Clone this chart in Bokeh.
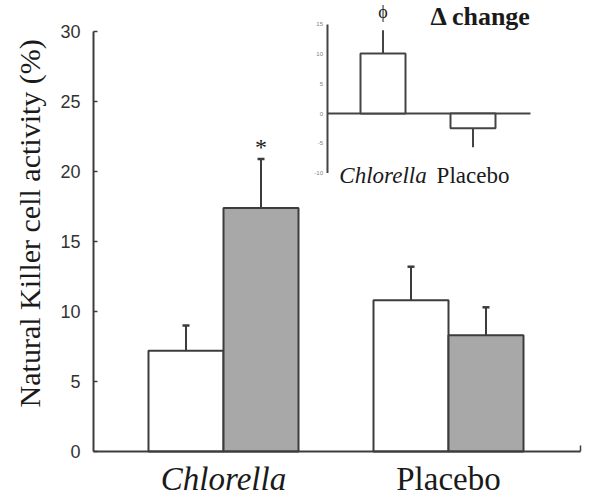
import math
from bokeh.plotting import figure
from bokeh.models import (Range1d, LinearAxis, FixedTicker, ColumnDataSource, Whisker,
                          TeeHead)
from bokeh.core.properties import value
from bokeh.embed import file_html
from bokeh.resources import INLINE

# ---------------- data ----------------
groups = ["Chlorella", "Placebo"]
group_styles = ["italic", "normal"]
pre_values = [7.2, 10.8]
pre_errors = [1.8, 2.4]
post_values = [17.4, 8.3]
post_errors = [3.5, 2.0]
y_ticks = [0, 5, 10, 15, 20, 25, 30]
y_label = "Natural Killer cell activity (%)"

delta_values = [10.1, -2.5]
delta_errors = [3.9, 3.2]
delta_ticks = [-10, -5, 0, 5, 10, 15]
delta_title = "\u0394 change"

# ---------------- figure ----------------
W, H = 590, 500
p = figure(width=W, height=H, output_backend="svg", toolbar_location=None,
           x_range=Range1d(0.008889, 2.63111), y_range=Range1d(-3.5, 32.214),
           min_border_left=0, min_border_right=0, min_border_top=0, min_border_bottom=0,
           x_axis_type=None, y_axis_type=None)
p.grid.visible = False
p.outline_line_color = None
p.background_fill_color = "white"
p.border_fill_color = "white"

# inset ranges
p.extra_x_ranges = {"ix": Range1d(-3.25, 3.3056)}
p.extra_y_ranges = {"iy": Range1d(-65.15, 19.024)}

AX = "#3c3c3c"
X_AXIS_POS = 0.42222
X_END = 2.5867

# y axis, fixed inside the frame
yax = LinearAxis(ticker=FixedTicker(ticks=y_ticks), bounds=(0, 30), fixed_location=X_AXIS_POS)
yax.axis_line_color = AX
yax.axis_line_width = 2
yax.major_tick_in = 4
yax.major_tick_out = 0
yax.major_tick_line_color = AX
yax.major_tick_line_width = 1.5
yax.minor_tick_line_color = None
yax.major_label_text_font = "Liberation Sans"
yax.major_label_text_font_size = "18px"
yax.major_label_text_color = "#333333"
yax.major_label_standoff = 13
p.add_layout(yax, "left")

# x axis (baseline at y = 0), small end tick only
xax = LinearAxis(ticker=FixedTicker(ticks=[], minor_ticks=[X_END]),
                 bounds=(X_AXIS_POS, X_END), fixed_location=0)
xax.axis_line_color = AX
xax.axis_line_width = 2
xax.major_tick_line_color = None
xax.minor_tick_in = 6
xax.minor_tick_out = 0
xax.minor_tick_line_color = AX
xax.minor_tick_line_width = 1.5
p.add_layout(xax, "below")

# y axis title
p.text(x=[0.1378], y=[16.3], text=[y_label], angle=math.pi / 2,
       text_font=value("Liberation Serif"), text_font_size="30px",
       text_align="center", text_baseline="middle", text_color="#1a1a1a")

# ---------------- main bars ----------------
xs = [i + 1 for i in range(len(groups))]
bw = 1 / 3
src = ColumnDataSource(dict(
    xpre=[x - bw / 2 for x in xs], xpost=[x + bw / 2 for x in xs],
    pre=pre_values, post=post_values,
    pre_up=[v + e for v, e in zip(pre_values, pre_errors)],
    post_up=[v + e for v, e in zip(post_values, post_errors)],
))
for xcol, top, up in [("xpre", "pre", "pre_up"), ("xpost", "post", "post_up")]:
    p.add_layout(Whisker(source=src, base=xcol, lower=top, upper=up, dimension="height",
                         line_color=AX, line_width=2,
                         upper_head=TeeHead(size=7, line_color=AX, line_width=2.5),
                         lower_head=None, level="underlay"))
p.vbar(x="xpre", top="pre", width=bw, bottom=0, source=src,
       fill_color="white", line_color=AX, line_width=2)
p.vbar(x="xpost", top="post", width=bw, bottom=0, source=src,
       fill_color="#a8a8a8", line_color=AX, line_width=2)

# significance star
p.text(x=[xs[0] + bw / 2], y=[post_values[0] + post_errors[0] - 0.1], text=["*"],
       text_font=value("Liberation Serif"), text_font_size="24px",
       text_align="center", text_baseline="bottom", text_color="#1a1a1a")

# category labels
csrc = ColumnDataSource(dict(x=xs, y=[-1.93] * len(xs), t=groups, st=group_styles))
p.text(x="x", y="y", text="t", text_font_style="st", source=csrc,
       text_font=value("Liberation Serif"), text_font_size="33px",
       text_align="center", text_baseline="middle", text_color="#1a1a1a")

# ---------------- inset ----------------
ix_axis = 0.3833
ix_end = 2.6389
p.segment(x0=[ix_axis], y0=[delta_ticks[0]], x1=[ix_axis], y1=[delta_ticks[-1]],
          x_range_name="ix", y_range_name="iy", line_color="#444444", line_width=2)
p.segment(x0=[ix_axis], y0=[0], x1=[ix_end], y1=[0],
          x_range_name="ix", y_range_name="iy", line_color="#444444", line_width=2)
p.text(x=[ix_axis - 0.05] * len(delta_ticks), y=delta_ticks,
       text=[str(t) for t in delta_ticks], x_range_name="ix", y_range_name="iy",
       text_font=value("Liberation Sans"), text_font_size="6px",
       text_align="right", text_baseline="middle", text_color="#808080")

isrc = ColumnDataSource(dict(
    x=xs, d=delta_values,
    tip=[v + e if v >= 0 else v - e for v, e in zip(delta_values, delta_errors)],
))
p.segment(x0="x", y0="d", x1="x", y1="tip", source=isrc,
          x_range_name="ix", y_range_name="iy", line_color="#444444", line_width=2)
p.vbar(x="x", top="d", bottom=0, width=0.5, source=isrc,
       x_range_name="ix", y_range_name="iy",
       fill_color="white", line_color="#444444", line_width=2)

p.text(x=[xs[0]], y=[delta_values[0] + delta_errors[0] + 1.4], text=["\u03d5"],
       x_range_name="ix", y_range_name="iy",
       text_font=value("Liberation Serif"), text_font_size="18px",
       text_align="center", text_baseline="bottom", text_color="#1a1a1a")
p.text(x=[1.528], y=[16.3], text=[delta_title],
       x_range_name="ix", y_range_name="iy",
       text_font=value("Liberation Serif"), text_font_size="26px", text_font_style="bold",
       text_align="left", text_baseline="middle", text_color="#1a1a1a")
lsrc = ColumnDataSource(dict(x=xs, y=[-10.44] * len(xs), t=groups, st=group_styles))
p.text(x="x", y="y", text="t", text_font_style="st", source=lsrc,
       x_range_name="ix", y_range_name="iy",
       text_font=value("Liberation Serif"), text_font_size="23px",
       text_align="center", text_baseline="middle", text_color="#1a1a1a")

open("out.html", "w").write(file_html(p, INLINE))
